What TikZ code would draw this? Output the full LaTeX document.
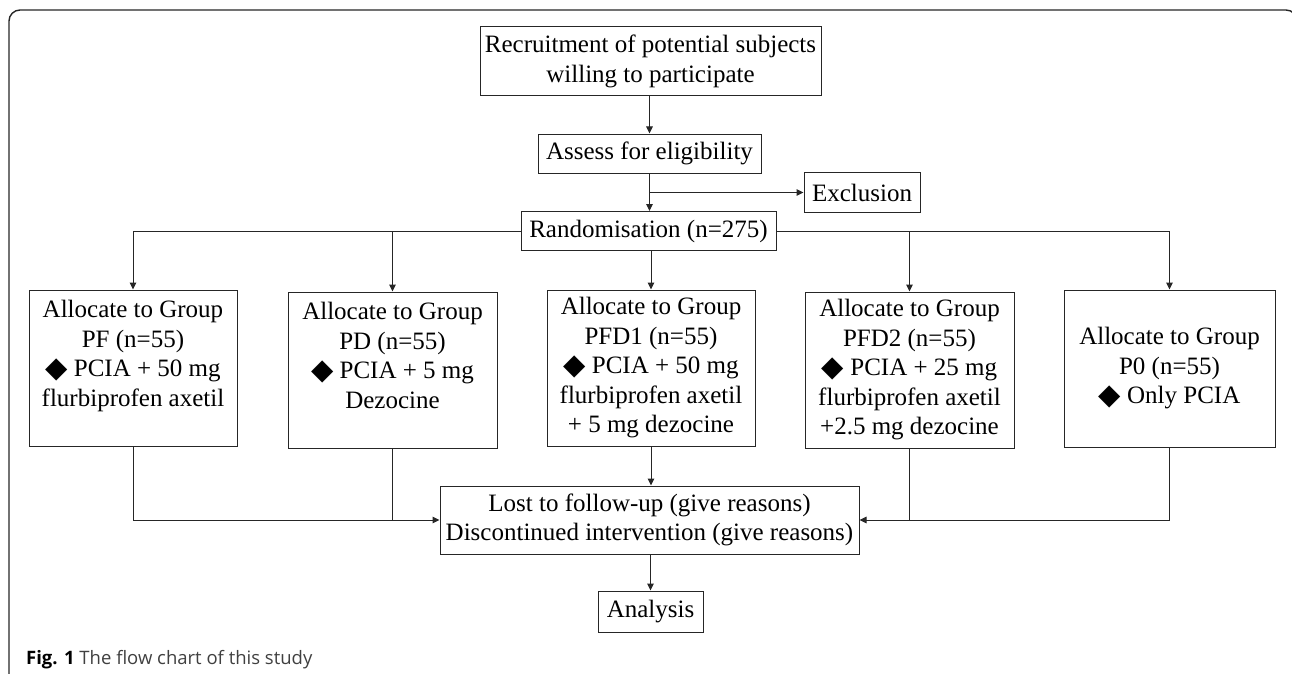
\documentclass[tikz,border=0pt]{standalone}
\usepackage{fontspec}
\setmainfont{Liberation Serif}
\newfontfamily\capfont{Open Sans}
\newfontfamily\symfont{DejaVu Sans}
\usetikzlibrary{arrows.meta}
\newcommand{\dia}{\smash{\raisebox{-0.5pt}{\symfont\fontsize{29}{29}\selectfont ◆}}}
\begin{document}
\begin{tikzpicture}[x=1pt,y=-1pt,
  box/.style={draw=black!85, line width=1pt, align=center, inner sep=0pt,
    font=\fontsize{25}{29.5}\selectfont},
  conn/.style={draw=black!85, line width=1pt},
  arr/.style={conn, -{Triangle[length=7pt,width=6.5pt]}}]
\useasboundingbox (0,0) rectangle (1292,674);
\clip (0,0) rectangle (1292,674);
\draw[line width=1.4pt, black!85, rounded corners=11pt] (9,680) -- (9,10) -- (1297,10) -- (1297,680);
% nodes
\node[box, minimum width=341pt, minimum height=69pt] (rec) at (650.5,61.5) {Recruitment of potential subjects\\willing to participate};
\node[box, minimum width=223pt, minimum height=39pt] (ass) at (649.5,153.5) {Assess for eligibility};
\node[box, minimum width=116pt, minimum height=40pt] (exc) at (862,192.5) {Exclusion};
\node[box, minimum width=255pt, minimum height=39pt] (ran) at (648.5,231) {Randomisation (n=275)};
\node[box, minimum width=208pt, minimum height=156pt] (pf) at (133,368) {Allocate to Group\\PF (n=55)\\\dia{} PCIA + 50 mg\\flurbiprofen axetil\\\mbox{}};
\node[box, minimum width=209pt, minimum height=156pt] (pd) at (392.5,370) {Allocate to Group\\PD (n=55)\\\dia{} PCIA + 5 mg\\Dezocine\\\mbox{}};
\node[box, minimum width=208pt, minimum height=156pt] (pfd1) at (651,368) {Allocate to Group\\PFD1 (n=55)\\\dia{} PCIA + 50 mg\\flurbiprofen axetil\\+ 5 mg dezocine};
\node[box, minimum width=209pt, minimum height=156pt] (pfd2) at (909.5,370) {Allocate to Group\\PFD2 (n=55)\\\dia{} PCIA + 25 mg\\flurbiprofen axetil\\+2.5 mg dezocine};
\node[box, minimum width=211pt, minimum height=157pt] (p0) at (1169.5,368.5) {Allocate to Group\\P0 (n=55)\\\dia{} Only PCIA};
\node[box, minimum width=419pt, minimum height=68pt] (lost) at (649.5,520) {Lost to follow-up (give reasons)\\Discontinued intervention (give reasons)};
\node[box, minimum width=105pt, minimum height=41pt] (ana) at (650.5,611.5) {Analysis};
% connectors
\draw[arr] (ass.north |- rec.south) -- (ass.north);
\draw[arr] (ass.south) -- (ass.south |- ran.north);
\draw[arr] (ass.south |- exc.west) -- (exc.west);
\draw[arr] (ran.west) -| (pf.north);
\draw[arr] (ran.east) -| (p0.north);
\draw[arr] (pd.north |- ran.west) -- (pd.north);
\draw[arr] (pfd2.north |- ran.east) -- (pfd2.north);
\draw[arr] (pfd1.north |- ran.south) -- (pfd1.north);
\draw[arr] (pf.south) |- (lost.west);
\draw[conn] (pd.south) -- (pd.south |- lost.west);
\draw[arr] (p0.south) |- (lost.east);
\draw[conn] (pfd2.south) -- (pfd2.south |- lost.east);
\draw[arr] (pfd1.south) -- (pfd1.south |- lost.north);
\draw[arr] (ana.north |- lost.south) -- (ana.north);
% caption
\node[anchor=base west, inner sep=0pt, font=\capfont\fontsize{18.5}{20}\selectfont, text=black!75] (cap) at (26,664) {\textcolor{black}{\bfseries Fig. 1} The flow chart of this study};
\end{tikzpicture}
\end{document}
